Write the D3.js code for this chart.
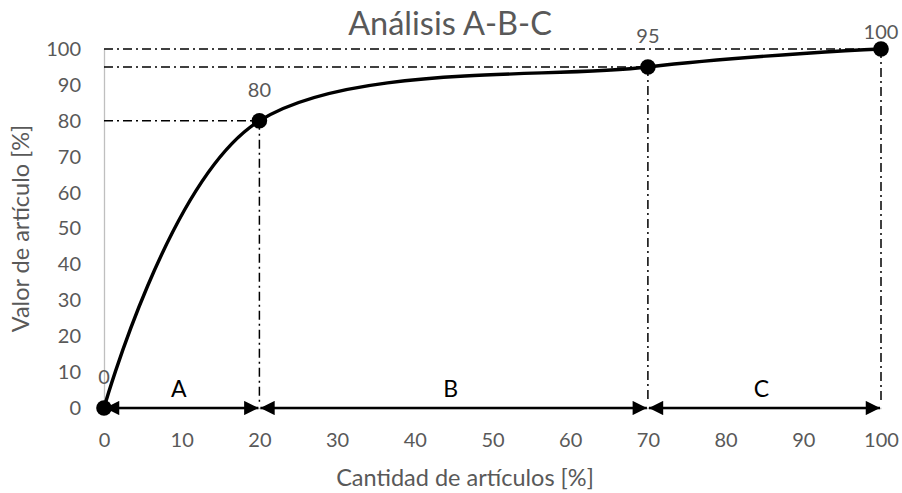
<!DOCTYPE html>
<html><head><meta charset="utf-8">
<script src="https://cdn.jsdelivr.net/npm/d3@7"></script>
<style>body{margin:0;background:#fff}svg{display:block}text{font-family:Lato,"Noto Sans",sans-serif}</style>
</head><body>
<svg id="c" width="902" height="493"></svg>
<script>
const xValues = [0, 20, 70, 100];
const yValues = [0, 80, 95, 100];
const pointLabels = ["0", "80", "95", "100"];
const zoneNames = ["A", "B", "C"];
const zoneBounds = [0, 20, 70, 100];
const xTicks = [0,10,20,30,40,50,60,70,80,90,100];
const yTicks = [0,10,20,30,40,50,60,70,80,90,100];

const svg = d3.select("#c");
const x = d3.scaleLinear().domain([0,100]).range([104,881]);
const y = d3.scaleLinear().domain([0,100]).range([408,49]);
const grey = "#595959";
const ff = "Lato,'Noto Sans',sans-serif";

svg.append("text").attr("x",450).attr("y",35).attr("text-anchor","middle")
  .attr("font-size",32.5).attr("fill",grey).text("Análisis A-B-C");

// axes
const gy = svg.append("g").attr("transform",`translate(${x(0)},0)`)
  .call(d3.axisLeft(y).tickValues(yTicks).tickSize(0).tickPadding(23));
gy.select(".domain").attr("stroke","#bfbfbf").attr("stroke-width",1.3);
gy.selectAll("text").attr("font-size",20).attr("fill",grey).attr("font-family",ff);
const gx = svg.append("g").attr("transform",`translate(0,${y(0)})`)
  .call(d3.axisBottom(x).tickValues(xTicks).tickSize(0).tickPadding(25));
gx.select(".domain").attr("stroke","#bfbfbf").attr("stroke-width",1.3);
gx.selectAll("text").attr("font-size",20).attr("fill",grey).attr("font-family",ff);

svg.append("text").attr("x",465).attr("y",486).attr("text-anchor","middle")
  .attr("font-size",23.5).attr("fill",grey).text("Cantidad de artículos [%]");
svg.append("text").attr("transform",`translate(29,${(y(0)+y(100))/2}) rotate(-90)`)
  .attr("text-anchor","middle").attr("font-size",23.5).attr("fill",grey).text("Valor de artículo [%]");

// dash-dot guides
const dash = "9,4,2,4";
const pts = xValues.map((v,i)=>({x:v,y:yValues[i],label:pointLabels[i]}));
pts.filter(p=>p.x>0).forEach(p=>{
  svg.append("line").attr("x1",x(0)).attr("x2",x(p.x)).attr("y1",y(p.y)).attr("y2",y(p.y))
    .attr("stroke","#000").attr("stroke-width",1.5).attr("stroke-dasharray",dash);
  svg.append("line").attr("x1",x(p.x)).attr("x2",x(p.x)).attr("y1",y(p.y)).attr("y2",y(0)-6)
    .attr("stroke","#000").attr("stroke-width",1.5).attr("stroke-dasharray",dash);
});

// arrows
const defs = svg.append("defs");
defs.append("marker").attr("id","ar").attr("viewBox","0 0 10 10")
  .attr("refX",10).attr("refY",5).attr("markerWidth",7.4).attr("markerHeight",6.2)
  .attr("markerUnits","strokeWidth").attr("orient","auto-start-reverse")
  .append("path").attr("d","M0,0L10,5L0,10Z").attr("fill","#000");
zoneNames.forEach((n,i)=>{
  const a = zoneBounds[i], b = zoneBounds[i+1];
  svg.append("line").attr("x1",x(a)+1).attr("x2",x(b)-1).attr("y1",y(0)).attr("y2",y(0))
    .attr("stroke","#000").attr("stroke-width",2.3)
    .attr("marker-start","url(#ar)").attr("marker-end","url(#ar)");
  svg.append("text").attr("x",x((a+b)/2)-3).attr("y",y(0)-11).attr("text-anchor","middle")
    .attr("font-size",23).attr("fill","#000").text(n);
});

// curve
const line = d3.line().x(d=>x(d.x)).y(d=>y(d.y)).curve(d3.curveCardinal.tension(0));
svg.append("path").datum(pts).attr("d",line).attr("fill","none")
  .attr("stroke","#000").attr("stroke-width",3.4);
svg.selectAll("circle.pt").data(pts).enter().append("circle")
  .attr("cx",d=>x(d.x)).attr("cy",d=>y(d.y)).attr("r",7.8).attr("fill","#000");
svg.selectAll("text.lbl").data(pts).enter().append("text")
  .attr("x",d=>x(d.x)).attr("y",d=>Math.max(y(d.y)-24, 39)).attr("text-anchor","middle")
  .attr("font-size",20).attr("fill",grey).text(d=>d.label);
</script>
</body></html>
